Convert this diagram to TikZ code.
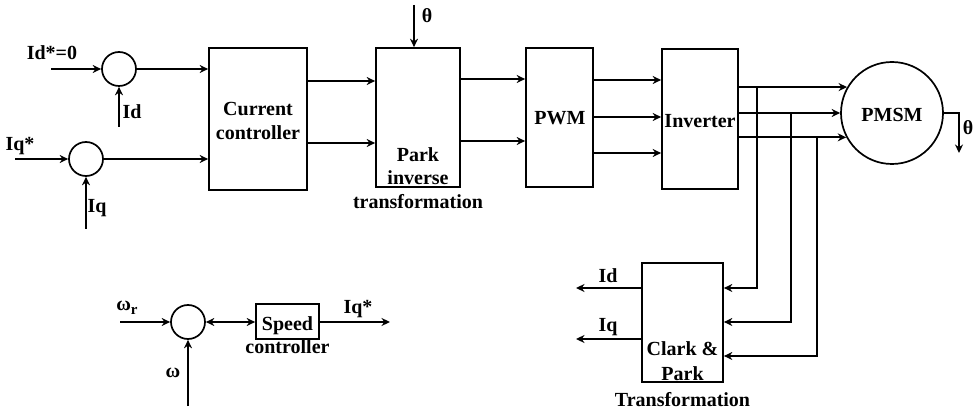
\documentclass[tikz,border=0pt]{standalone}
\usepackage{fontspec}
\setmainfont{Liberation Serif}
\usetikzlibrary{arrows.meta}
\begin{document}
\begin{tikzpicture}[x=1pt,y=-1pt,
  line width=1.7pt,
  >={Stealth[length=8.5pt,width=8pt]},
  every node/.style={font=\fontsize{20}{23.5}\selectfont\bfseries, inner sep=0pt},
  blk/.style={draw, rectangle, line width=1.7pt},
  sumc/.style={draw, circle, minimum size=34pt, line width=1.7pt},
  lbl/.style={align=center}]
\useasboundingbox (0,0) rectangle (974,411);

% blocks
\node[blk, minimum width=98pt, minimum height=142pt] (cc) at (258,119) {};
\node[lbl] (cctxt) at (258,121) {Current\\controller};
\node[blk, minimum width=84pt, minimum height=139pt] (pk) at (418,117.5) {};
\node[lbl] (pktxt) at (418,178) {Park\\inverse\\transformation};
\node[blk, minimum width=67pt, minimum height=139pt] (pwm) at (559.5,117.5) {};
\node (pwmtxt) at (560,118) {PWM};
\node[blk, minimum width=76pt, minimum height=140pt] (inv) at (700,119) {};
\node (invtxt) at (700,121) {Inverter};
\node[draw, circle, minimum size=102pt, line width=1.7pt] (m) at (892,113) {};
\node (mtxt) at (892,115) {PMSM};
\node[blk, minimum width=81pt, minimum height=119pt] (cp) at (682.5,322.5) {};
\node[lbl, font=\fontsize{20}{25.5}\selectfont\bfseries] (cptxt) at (682.5,374) {Clark \&\\Park\\Transformation};
\node[blk, minimum width=63pt, minimum height=35pt] (sc) at (287.5,321.5) {};
\node[lbl] (sctxt) at (287.5,335) {Speed\\controller};

% summing junctions
\node[sumc] (s1) at (119,69) {};
\node[sumc] (s2) at (86,159) {};
\node[sumc] (s3) at (188,322) {};

% input side
\coordinate (idin) at (51,69);
\coordinate (idfb) at (119,127);
\coordinate (iqin) at (15,159);
\coordinate (iqfb) at (86,229);
\node (lidref) at (52,53) {Id*=0};
\node (lid) at (132,112) {Id};
\node (liqref) at (20,146) {Iq*};
\node (liq) at (97,208) {Iq};
\draw[->] (idin) -- (s1.west);
\draw[->] (idfb) -- (s1.south);
\draw[->] (iqin) -- (s2.west);
\draw[->] (iqfb) -- (s2.south);
\draw[->] (s1.east) -- (cc.west |- s1.east);
\draw[->] (s2.east) -- (cc.west |- s2.east);

% current controller -> park
\draw[->] (cc.east |- 0,81) -- (pk.west |- 0,81);
\draw[->] (cc.east |- 0,143) -- (pk.west |- 0,143);
\coordinate (thin) at (414,5);
\draw[->] (thin) -- (thin |- pk.north);
\node (lthin) at (427,16) {θ};

% park -> pwm
\draw[->] (pk.east |- 0,79) -- (pwm.west |- 0,79);
\draw[->] (pk.east |- 0,141) -- (pwm.west |- 0,141);

% pwm -> inverter
\draw[->] (pwm.east |- 0,80) -- (inv.west |- 0,80);
\draw[->] (pwm.east |- 0,117) -- (inv.west |- 0,117);
\draw[->] (pwm.east |- 0,153) -- (inv.west |- 0,153);

% inverter -> motor
\draw[->] (inv.east |- m.150.6) -- (m.150.6);
\draw[->] (inv.east |- m.west) -- (m.west);
\draw[->] (inv.east |- m.208.1) -- (m.208.1);

% motor theta
\coordinate (thout) at (959,153);
\draw[->] (m.east) -| (thout);
\node (lthout) at (968,128) {θ};

% feedback taps
\coordinate (ta) at (757,88);
\coordinate (tb) at (791,113);
\coordinate (tc) at (817,137);
\draw[->] (ta) |- (cp.east |- 0,288);
\draw[->] (tb) |- (cp.east |- 0,322);
\draw[->] (tc) |- (cp.east |- 0,356);

% clark outputs
\coordinate (idout) at (576,288);
\coordinate (iqout) at (576,339);
\draw[->] (cp.west |- idout) -- (idout);
\draw[->] (cp.west |- iqout) -- (iqout);
\node (lidout) at (608,276) {Id};
\node (liqout) at (608,327) {Iq};

% speed loop
\coordinate (wrin) at (120,322);
\coordinate (wfb) at (188,406);
\coordinate (sout) at (390,322);
\draw[->] (wrin) -- (s3.west);
\draw[->] (wfb) -- (s3.south);
\draw[<->] (s3.east) -- (sc.west |- s3.east);
\draw[->] (sc.east |- s3.east) -- (sout);
\node (lwr) at (127,308) {ω\raisebox{-4pt}{\fontsize{15}{15}\selectfont r}};
\node (lw) at (173,373) {ω};
\node (liqs) at (358,309) {Iq*};
\end{tikzpicture}
\end{document}
